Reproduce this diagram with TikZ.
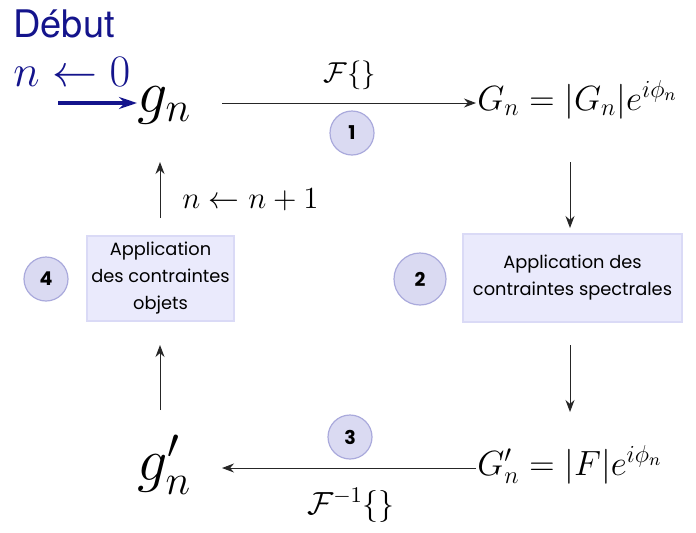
\RequirePackage{fix-cm}
\documentclass[tikz,border=0pt]{standalone}
\usepackage{fontspec}
\newfontfamily\boxfont{Poppins}
\newfontfamily\headfont{TeX Gyre Heros}
\usetikzlibrary{arrows.meta}
\definecolor{navy}{RGB}{20,20,140}
\definecolor{boxfill}{RGB}{234,234,252}
\definecolor{boxline}{RGB}{218,218,246}
\definecolor{circfill}{RGB}{218,218,242}
\definecolor{circline}{RGB}{170,170,220}
\tikzset{
  flow/.style={-{Stealth[length=6pt,width=4.5pt]}, line width=0.5pt, draw=black!85},
  stepbox/.style={draw=boxline, fill=boxfill, line width=0.6pt, inner sep=0pt, align=center,
    font=\boxfont\fontsize{8.9pt}{13.5pt}\selectfont},
  stepnum/.style={circle, draw=circline, fill=circfill, line width=0.6pt, minimum size=22pt, inner sep=0pt,
    font=\boxfont\bfseries\fontsize{9.5pt}{9.5pt}\selectfont},
  bigmath/.style={font=\fontsize{30pt}{32pt}\selectfont, inner sep=0pt},
  midmath/.style={font=\fontsize{17.5pt}{19pt}\selectfont, inner sep=0pt},
  lblmath/.style={font=\fontsize{14.4pt}{16pt}\selectfont, inner sep=0pt}
}
\begin{document}
\begin{tikzpicture}[x=0.5pt,y=-0.5pt]
\useasboundingbox (0,0) rectangle (696,532);
% start
\node[anchor=base west, inner sep=0pt, text=navy, font=\headfont\fontsize{19pt}{22pt}\selectfont] (debut) at (13,37) {Début};
\node[anchor=base west, inner sep=0pt, text=navy, font=\fontsize{22.5pt}{24pt}\selectfont] (init) at (13,86) {$n \leftarrow 0$};
% main nodes
\node[bigmath, anchor=base west] (g) at (137,112) {$g_n$};
\node[midmath, anchor=base west] (G) at (477,110) {$G_n = |G_n| e^{i\phi_n}$};
\node[midmath, anchor=base west] (Gp) at (477,475) {$G'_n = |F| e^{i\phi_n}$};
\node[bigmath, anchor=base west] (gp) at (137,480) {$g'_n$};
\coordinate (start) at (58,103);
\coordinate (gR) at (222,103);
\coordinate (GL) at (476,103);
\coordinate (GpL) at (476,468);
\coordinate (gpR) at (222,468);
% boxes
\node[stepbox, minimum width=109.5pt, minimum height=44pt] (b2) at (572.5,278) {Application des\\contraintes spectrales};
\node[stepbox, minimum width=73.5pt, minimum height=42.5pt] (b4) at (160.5,278.5) {Application\\des contraintes\\objets};
% circles
\node[stepnum] (c1) at (352,133) {1};
\node[stepnum, minimum size=26pt] (c2) at (420,279) {2};
\node[stepnum] (c3) at (350,437) {3};
\node[stepnum] (c4) at (46,279) {4};
% labels
\node[lblmath] (lF) at (350,75) {$\mathcal{F}\{\}$};
\node[lblmath, font=\fontsize{16pt}{17pt}\selectfont] (lFi) at (351,505) {$\mathcal{F}^{-1}\{\}$};
\node[lblmath, font=\fontsize{15.4pt}{17pt}\selectfont, anchor=west] (lninc) at (182,200) {$n \leftarrow n+1$};
% arrows
\coordinate (a2s) at (570,162);
\coordinate (a2e) at (570,228);
\coordinate (a3s) at (570,345);
\coordinate (a3e) at (570,412);
\coordinate (a4s) at (160,410);
\coordinate (a4e) at (160,345);
\coordinate (a1s) at (160,218);
\coordinate (a1e) at (160,162);
\draw[-{Stealth[length=9pt,width=6pt]}, line width=1.6pt, navy] (start) -- (start -| g.west);
\draw[flow] (gR) -- (GL);
\draw[flow] (a2s) -- (a2e);
\draw[flow] (a3s) -- (a3e);
\draw[flow] (GpL) -- (gpR);
\draw[flow] (a4s) -- (a4e);
\draw[flow] (a1s) -- (a1e);
\end{tikzpicture}
\end{document}
